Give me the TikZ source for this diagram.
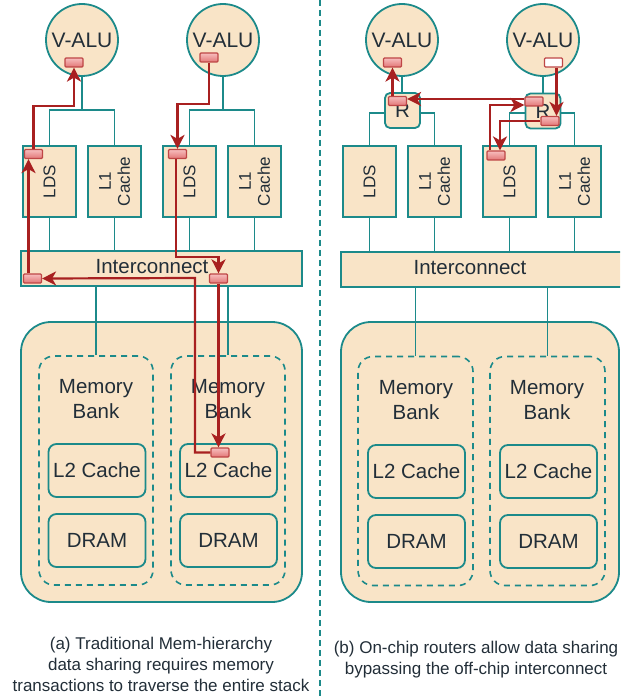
\documentclass[tikz,border=0pt]{standalone}
\usepackage{fontspec}
\setmainfont{Liberation Sans}
\usetikzlibrary{arrows.meta}
\definecolor{beige}{RGB}{249,228,199}
\definecolor{tealc}{RGB}{28,138,138}
\definecolor{arrred}{RGB}{168,32,32}
\definecolor{txtc}{RGB}{34,46,56}
\definecolor{pkttop}{RGB}{247,190,190}
\definecolor{pktbot}{RGB}{226,118,118}
\definecolor{pktdraw}{RGB}{190,70,70}
\begin{document}
\begin{tikzpicture}[x=1pt,y=-1pt,
  every node/.style={text=txtc, inner sep=0pt},
  box/.style={draw=tealc, fill=beige, line width=1.8pt},
  valu/.style={circle, box, minimum size=72pt, font=\fontsize{21}{24}\selectfont},
  unitbox/.style={box, minimum width=53pt, minimum height=71pt},
  unittext/.style={rotate=90, align=center, font=\fontsize{17}{19}\selectfont},
  busbox/.style={box, minimum height=35pt},
  bigtext/.style={font=\fontsize{20.5}{25}\selectfont, align=center},
  membig/.style={box, rounded corners=30pt, minimum width=281pt, minimum height=280pt},
  bankbox/.style={draw=tealc, dash pattern=on 6pt off 5pt, line width=1.6pt, rounded corners=15pt, minimum width=114pt, minimum height=229pt},
  memunit/.style={box, rounded corners=8pt, minimum width=97pt, minimum height=53pt, font=\fontsize{20.5}{24}\selectfont},
  router/.style={box, rounded corners=5pt, minimum size=35pt, font=\fontsize{20.5}{24}\selectfont},
  wire/.style={draw=tealc, line width=1.8pt},
  pkt/.style={draw=pktdraw, line width=1.2pt, top color=pkttop, bottom color=pktbot, minimum width=18pt, minimum height=9pt, rounded corners=1pt},
  pkthollow/.style={draw=pktdraw, line width=1.2pt, fill=white, minimum width=18pt, minimum height=9pt, rounded corners=1pt},
  flow/.style={draw=arrred, line width=2.2pt, -{Stealth[length=14pt,width=14pt,inset=4pt]}},
  captext/.style={font=\fontsize{17}{21}\selectfont, align=center}
]
\useasboundingbox (0,0) rectangle (620,700);
\clip (0,0) rectangle (620,700);

% divider
\coordinate (dtop) at (320,0);
\coordinate (dbot) at (320,700);
\draw[tealc, line width=1.6pt, dash pattern=on 6pt off 4pt] (dtop) -- (dbot);

% ================= LEFT PANEL =================
\node[valu] (v1) at (82,40) {V-ALU};
\node[valu] (v2) at (223,40) {V-ALU};
\node[unitbox] (lds1) at (49.5,181.5) {};
\node[unitbox] (l1c1) at (114.5,181.5) {};
\node[unitbox] (lds2) at (189.5,181.5) {};
\node[unitbox] (l1c2) at (254.5,181.5) {};
\node[unittext] (lds1t) at (lds1) {LDS};
\node[unittext] (l1c1t) at (l1c1) {L1\\Cache};
\node[unittext] (lds2t) at (lds2) {LDS};
\node[unittext] (l1c2t) at (l1c2) {L1\\Cache};
\node[busbox, minimum width=281pt] (ic1) at (161.5,268.5) {};
\node[bigtext] (ic1t) at (152,267) {Interconnect};
\node[membig] (mem1) at (161.5,462) {};
\node[bankbox] (bank1) at (96,470.5) {};
\node[bankbox] (bank2) at (228,470.5) {};
\node[bigtext] (mt1) at (96,399.5) {Memory\\Bank};
\node[bigtext] (mt2) at (228,399.5) {Memory\\Bank};
\node[memunit] (l2a) at (97,470.5) {L2 Cache};
\node[memunit] (dra) at (97,540.5) {DRAM};
\node[memunit] (l2b) at (228.5,470.5) {L2 Cache};
\node[memunit] (drb) at (228.5,540.5) {DRAM};

% wires left
\coordinate (b1) at (82,110);
\coordinate (b2) at (223,110);
\draw[wire] (v1.south) -- (b1);
\draw[wire] (lds1.north) |- (b1) -| (l1c1.north);
\draw[wire] (v2.south) -- (b2);
\draw[wire] (lds2.north) |- (b2) -| (l1c2.north);
\foreach \u in {lds1,l1c1,lds2,l1c2}{\draw[wire] (\u.south) -- (\u.south |- ic1.north);}
\draw[wire] (bank1.north) -- (bank1.north |- ic1.south);
\draw[wire] (bank2.north) -- (bank2.north |- ic1.south);

% ================= RIGHT PANEL =================
\node[valu] (v3) at (402,40) {V-ALU};
\node[valu] (v4) at (543,40) {V-ALU};
\node[router] (r1) at (402.5,110.5) {R};
\node[router] (r2) at (543,111) {R};
\node[unitbox] (lds3) at (369.5,181.5) {};
\node[unitbox] (l1c3) at (434.5,181.5) {};
\node[unitbox] (lds4) at (509.5,181.5) {};
\node[unitbox] (l1c4) at (574.5,181.5) {};
\node[unittext] (lds3t) at (lds3) {LDS};
\node[unittext] (l1c3t) at (l1c3) {L1\\Cache};
\node[unittext] (lds4t) at (lds4) {LDS};
\node[unittext] (l1c4t) at (l1c4) {L1\\Cache};
\node[busbox, minimum width=284pt] (ic2) at (483,269.5) {};
\node[bigtext] (ic2t) at (470,268) {Interconnect};
\node[membig, minimum width=278pt] (mem2) at (480,462) {};
\node[bankbox, minimum width=115pt] (bank3) at (415.5,471) {};
\node[bankbox, minimum width=115pt] (bank4) at (547.5,471) {};
\node[bigtext] (mt3) at (416,400) {Memory\\Bank};
\node[bigtext] (mt4) at (547,400) {Memory\\Bank};
\node[memunit] (l2c) at (416.5,471.5) {L2 Cache};
\node[memunit] (drc) at (416.5,541.5) {DRAM};
\node[memunit] (l2d) at (548.5,471.5) {L2 Cache};
\node[memunit] (drd) at (548.5,541.5) {DRAM};

% wires right
\draw[wire] (v3.south) -- (v3.south |- r1.north);
\draw[wire] (v4.south) -- (v4.south |- r2.north);
\draw[wire] ([yshift=-2.5pt]r1.west) -| (lds3.north);
\draw[wire] ([yshift=-2.5pt]r1.east) -| (l1c3.north);
\draw[wire] ([yshift=-2pt]r2.west) -| (lds4.north);
\draw[wire] ([yshift=-2pt]r2.east) -| (l1c4.north);
\foreach \u in {lds3,l1c3,lds4,l1c4}{\draw[wire] (\u.south) -- (\u.south |- ic2.north);}
\draw[wire] (bank3.north) -- (bank3.north |- ic2.south);
\draw[wire] (bank4.north) -- (bank4.north |- ic2.south);

% captions
\node[captext] (capa) at (161,664) {(a) Traditional Mem-hierarchy\\data sharing requires memory\\transactions to traverse the entire stack};
\node[captext] (capb) at (476,660) {(b) On-chip routers allow data sharing\\bypassing the off-chip interconnect};

% ================= PACKETS =================
\node[pkt] (la1) at (74,62.5) {};
\node[pkt] (la2) at (209,57.5) {};
\node[pkt] (ll1) at (33.5,154) {};
\node[pkt] (ll2) at (177.5,154) {};
\node[pkt] (li1) at (32.5,278.5) {};
\node[pkt] (li2) at (218.5,278.5) {};
\node[pkt] (lc2) at (220,452.5) {};

\node[pkt] (ra1) at (392.5,62.5) {};
\node[pkthollow] (ra2) at (553.5,62.5) {};
\node[pkt] (rr1) at (397.5,101) {};
\node[pkt] (rr2a) at (534,101.5) {};
\node[pkt] (rr2b) at (550,121) {};
\node[pkt] (rl2) at (496,155.5) {};

% ================= FLOWS LEFT =================
\coordinate (fa) at (195,278);
\draw[flow] (lc2.west) -| (fa) -- (li1.east);
\draw[flow] ([xshift=-4pt]li1.north) -- ([xshift=-4pt]li1.north |- ll1.south);
\draw[flow] (ll1.north) |- (la1.south |- 0,106) -- (la1.south);
\draw[flow] (la2.south) |- (ll2.north |- 0,104) -- (ll2.north);
\draw[flow] ([xshift=-1.5pt]ll2.south) |- (li2.north |- 0,257) -- (li2.north);
\draw[flow] (li2.south) -- (li2.south |- lc2.north);

% ================= FLOWS RIGHT =================
\draw[flow] (rr1.north -| ra1.south) -- (ra1.south);
\coordinate (h0) at ([yshift=2.5pt]rr2a.west);
\draw[flow] (h0) -- (h0 -| rr1.east);
\coordinate (i1) at ([yshift=-3.5pt]rr2a.west);
\draw[flow] ([xshift=-6pt]rl2.north) |- (i1);
\draw[flow] ([xshift=3pt]ra2.south) -- ([xshift=3pt]ra2.south |- rr2b.north);
\draw[flow] (rr2b.west) -| ([xshift=4pt]rl2.north);
\end{tikzpicture}
\end{document}
